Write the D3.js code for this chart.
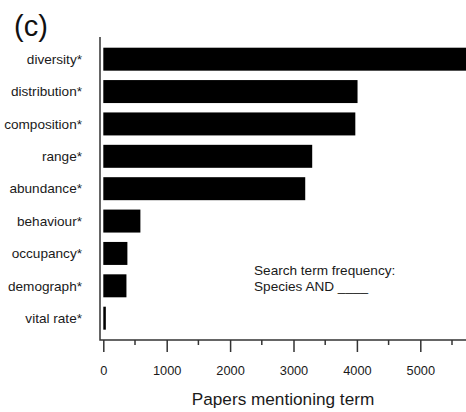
<!DOCTYPE html>
<html>
<head>
<meta charset="utf-8">
<script src="https://cdn.jsdelivr.net/npm/d3@7"></script>
<style>
  body { margin: 0; background: #fff; }
  svg { display: block; font-family: "Liberation Sans", Arial, Helvetica, sans-serif; }
</style>
</head>
<body>
<svg id="chart" width="466" height="412"></svg>
<script>
"use strict";

// search terms and paper counts
var terms = ["diversity*", "distribution*", "composition*", "range*", "abundance*",
             "behaviour*", "occupancy*", "demograph*", "vital rate*"];
var papers = [6900, 4010, 3975, 3295, 3185, 585, 380, 365, 40];
var majorTicks = [0, 1000, 2000, 3000, 4000, 5000];
var minorTicks = [500, 1500, 2500, 3500, 4500, 5500];

var svg = d3.select("#chart");

var axisX = 100,
    axisTop = 37,
    axisBottom = 340;

var x = d3.scaleLinear()
  .domain([0, 1000])
  .range([103.3, 166.7]);

var y = d3.scaleBand()
  .domain(terms)
  .range([43, 43 + 9 * 32.375])
  .paddingInner(0.29)
  .paddingOuter(0.145);

var data = terms.map(function(t, i) { return { term: t, n: papers[i] }; });

// bars
svg.selectAll(".bar").data(data)
  .enter()
  .append("rect")
  .attr("class", "bar")
  .attr("x", x(0))
  .attr("y", function(d) { return y(d.term); })
  .attr("width", function(d) { return x(d.n) - x(0); })
  .attr("height", y.bandwidth())
  .attr("fill", "#000");

// category labels
svg.selectAll(".lab").data(data)
  .enter()
  .append("text")
  .attr("class", "lab")
  .attr("x", 82)
  .attr("y", function(d) { return y(d.term) + y.bandwidth() / 2; })
  .attr("dy", "0.35em")
  .attr("text-anchor", "end")
  .attr("font-size", "13.6px")
  .attr("fill", "#1a1a1a")
  .text(function(d) { return d.term; });

// L-shaped frame
svg.append("path")
  .attr("d", "M" + axisX + "," + axisTop + "V" + axisBottom + "H466")
  .attr("fill", "none")
  .attr("stroke", "#333")
  .attr("stroke-width", 1.5);

// bottom axis
var xAxis = d3.axisBottom(x)
  .tickValues(majorTicks)
  .tickFormat(d3.format("d"))
  .tickSize(12)
  .tickPadding(14);

var gx = svg.append("g")
  .attr("transform", "translate(0," + axisBottom + ")")
  .call(xAxis);
gx.select(".domain").remove();
gx.selectAll(".tick line").attr("stroke", "#333").attr("stroke-width", 1.5);
gx.selectAll(".tick text")
  .attr("font-size", "12.8px")
  .attr("font-family", "\"Liberation Sans\", Arial, sans-serif")
  .attr("fill", "#1a1a1a");

svg.append("g").selectAll("line").data(minorTicks)
  .enter()
  .append("line")
  .attr("x1", function(d) { return x(d); })
  .attr("x2", function(d) { return x(d); })
  .attr("y1", axisBottom)
  .attr("y2", axisBottom + 5)
  .attr("stroke", "#333")
  .attr("stroke-width", 1.5);

// axis title
svg.append("text")
  .attr("x", 283)
  .attr("y", 405)
  .attr("text-anchor", "middle")
  .attr("font-size", "17.2px")
  .attr("fill", "#1a1a1a")
  .text("Papers mentioning term");

// panel letter
svg.append("text")
  .attr("x", 14)
  .attr("y", 36)
  .attr("font-size", "29px")
  .attr("fill", "#111")
  .text("(c)");

// annotation
var note = svg.append("text")
  .attr("x", 254)
  .attr("font-size", "13.6px")
  .attr("fill", "#1a1a1a");
note.append("tspan").attr("x", 254).attr("y", 275).text("Search term frequency:");
note.append("tspan").attr("x", 254).attr("y", 291).text("Species AND ____");
</script>
</body>
</html>
